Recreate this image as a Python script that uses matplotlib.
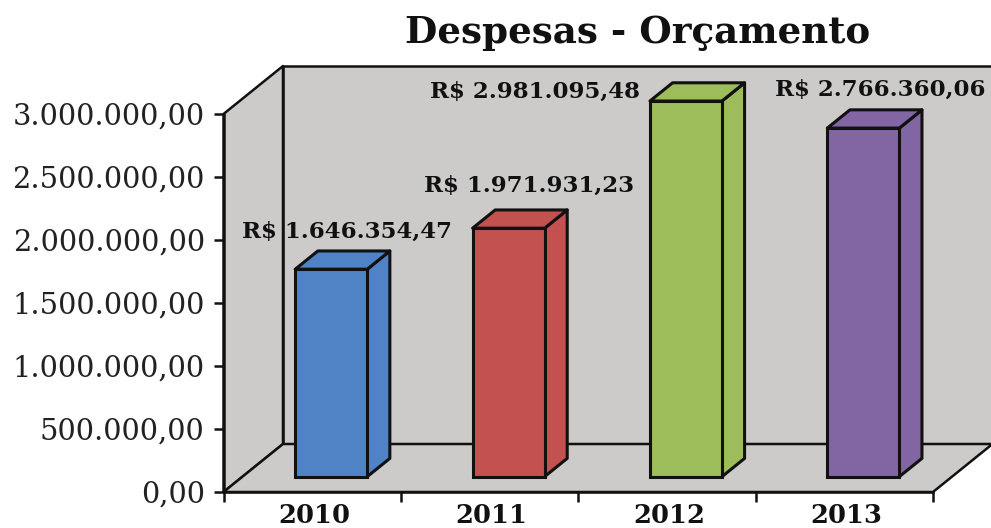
#!/usr/bin/env python3
import matplotlib

matplotlib.use("Agg")
import matplotlib.pyplot as plt
from matplotlib.patches import Polygon

years = ["2010", "2011", "2012", "2013"]
values = [1646354.47, 1971931.23, 2981095.48, 2766360.06]
value_labels = ["R$ 1.646.354,47", "R$ 1.971.931,23", "R$ 2.981.095,48", "R$ 2.766.360,06"]
bar_colors = ["#5082c6", "#c2514f", "#9dbc5a", "#8266a4"]
y_ticks = [0, 500000, 1000000, 1500000, 2000000, 2500000, 3000000]
y_tick_labels = ["0,00", "500.000,00", "1.000.000,00", "1.500.000,00",
                 "2.000.000,00", "2.500.000,00", "3.000.000,00"]
title = "Despesas - Orçamento"

W, H = 991, 528
WALL = "#cccbca"
LINE = "#111111"

# fake 3d: full box depth, as a shift in data units
DEPTH_X = 59.5 / 177.4
DEPTH_Y = 48 / 378 * 3000000
BAR_W = 0.406
# bar front and back planes, as a fraction of the box depth
BAR_FRONT = 0.32
BAR_BACK = 0.70


def shift(x, y, depth):
    return x + DEPTH_X * depth, y + DEPTH_Y * depth


def main():
    plt.rcParams["font.family"] = ["DejaVu Serif"]
    fig = plt.figure(figsize=(W / 100, H / 100), dpi=100)
    ax = fig.add_axes([223.5 / W, (H - 492) / H, 709.5 / W, 378 / H])
    ax.set_xlim(0, 4)
    ax.set_ylim(0, 3000000)
    ax.patch.set_visible(False)
    for side in ["top", "right"]:
        ax.spines[side].set_visible(False)
    for side in ["left", "bottom"]:
        ax.spines[side].set_linewidth(1.8)
        ax.spines[side].set_color(LINE)

    # side wall, back wall, floor
    ymax = y_ticks[-1]
    wall_lw = 1.8
    left = [shift(0, 0, 0), shift(0, 0, 1), shift(0, ymax, 1), shift(0, ymax, 0)]
    back = [shift(0, 0, 1), shift(4, 0, 1), shift(4, ymax, 1), shift(0, ymax, 1)]
    floor = [shift(0, 0, 0), shift(4, 0, 0), shift(4, 0, 1), shift(0, 0, 1)]
    for pts in [back, left, floor]:
        ax.add_patch(Polygon(pts, closed=True, fc=WALL, ec=LINE, lw=wall_lw,
                             clip_on=False, zorder=1, joinstyle="round"))

    # bars: front face with ax.bar, then top and side faces
    for i, (val, color) in enumerate(zip(values, bar_colors)):
        x0 = i + 0.5 - BAR_W / 2
        x1 = i + 0.5 + BAR_W / 2
        fx0, base = shift(x0, 0, BAR_FRONT)
        fx1, _ = shift(x1, 0, BAR_FRONT)
        top = base + val
        kw = dict(fc=color, ec=LINE, lw=2.2, clip_on=False, zorder=3, joinstyle="round")
        dd = BAR_BACK - BAR_FRONT
        ax.add_patch(Polygon([(fx1, base), shift(fx1, base, dd), shift(fx1, top, dd), (fx1, top)], **kw))
        ax.add_patch(Polygon([(fx0, top), (fx1, top), shift(fx1, top, dd), shift(fx0, top, dd)], **kw))
        ax.bar(fx0, val, width=fx1 - fx0, bottom=base, align="edge", color=color,
               edgecolor=LINE, linewidth=2.2, clip_on=False, zorder=4)

    # labels sit above the back edge of each bar top, nudged by hand
    label_dx = [0.07, 0.093, -0.87, 0.073]
    label_dy = [6, 9.5, -14.3, 6.6]
    for i, (val, lab) in enumerate(zip(values, value_labels)):
        lx, ly = shift(i + 0.5 + label_dx[i], DEPTH_Y * BAR_FRONT + val, BAR_BACK - BAR_FRONT)
        ax.annotate(lab, (lx, ly), xytext=(0, label_dy[i]), textcoords="offset points",
                    ha="center", va="bottom", fontsize=16.5, fontweight="bold",
                    color="#111111", zorder=5, annotation_clip=False)

    ax.set_yticks(y_ticks, y_tick_labels)
    ax.tick_params(axis="y", length=7.5, width=1.8, color=LINE, labelsize=20.8,
                   labelcolor="#222222", pad=6)
    ax.set_xticks([0, 1, 2, 3, 4])
    ax.set_xticklabels([])
    ax.tick_params(axis="x", length=7.5, width=1.8, color=LINE)
    for i, yr in enumerate(years):
        ax.annotate(yr, (i + 0.5, 0), xytext=(1.5, -22.3), textcoords="offset points",
                    ha="center", va="baseline", fontsize=18.5, fontweight="bold",
                    color="#111111", annotation_clip=False)

    fig.text(638 / W, (H - 43) / H, title, ha="center", va="baseline",
             fontsize=26.8, fontweight="bold", color="#111111")
    fig.savefig("out.png", dpi=100)


if __name__ == "__main__":
    main()
